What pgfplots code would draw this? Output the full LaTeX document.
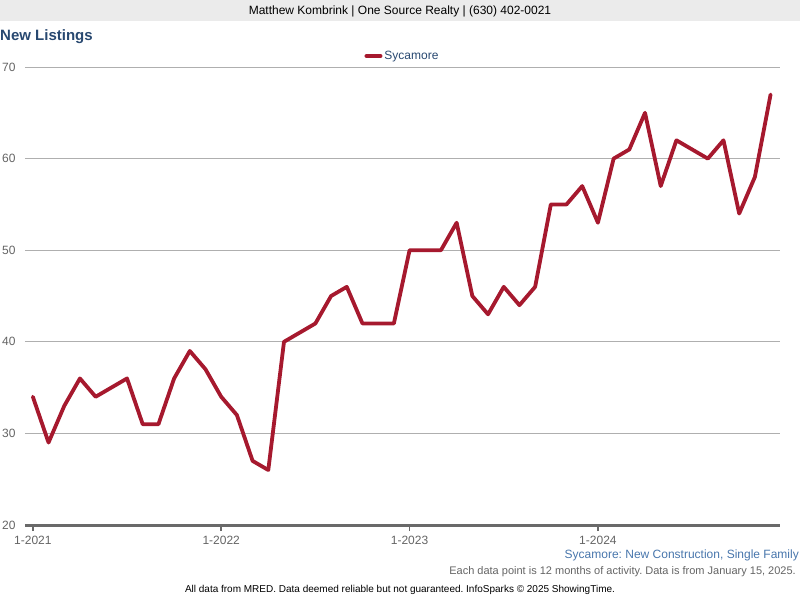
\documentclass[border=0pt]{standalone}
\usepackage{pgfplots}
\pgfplotsset{compat=1.18}
\usepackage{fontspec}
\setmainfont{Liberation Sans}
\frenchspacing
\definecolor{linered}{RGB}{166,25,46}
\definecolor{titleblue}{RGB}{40,72,112}
\definecolor{subblue}{RGB}{72,118,172}
\definecolor{hdrgray}{RGB}{235,235,235}
\definecolor{txtgray}{RGB}{100,100,100}
\definecolor{gridgray}{RGB}{175,175,175}
\definecolor{axgray}{RGB}{105,105,105}
\begin{document}
\begin{tikzpicture}
\path[use as bounding box] (0pt,0pt) rectangle (800pt,-600pt);
\fill[hdrgray] (0pt,0pt) rectangle (800pt,-21pt);
\node[font=\fontsize{12}{14}\selectfont, inner sep=0pt] at (400pt,-11pt) {Matthew Kombrink | One Source Realty | (630) 402-0021};
\node[anchor=base west, font=\bfseries\fontsize{15}{18}\selectfont, text=titleblue, inner sep=0pt] at (0pt,-40.5pt) {New Listings};
\node[anchor=east, inner sep=0pt, text=subblue, font=\fontsize{12}{14}\selectfont] at (799pt,-555pt) {Sycamore: New Construction, Single Family};
\node[anchor=east, inner sep=0pt, text=txtgray, font=\fontsize{11}{13}\selectfont] at (796pt,-572pt) {Each data point is 12 months of activity. Data is from January 15, 2025.};
\node[inner sep=0pt, font=\fontsize{10}{12}\selectfont] at (400pt,-590pt) {All data from MRED. Data deemed reliable but not guaranteed. InfoSparks \textcopyright{} 2025 ShowingTime.};
\begin{axis}[
  at={(25pt,-525pt)}, anchor=south west,
  scale only axis, width=755pt, height=458pt,
  xmin=-0.5, xmax=47.6, ymin=20, ymax=70,
  axis x line*=bottom, axis y line*=left,
  y axis line style={draw=none},
  x axis line style={draw=axgray, line width=3pt, -},
  ytick={20,30,40,50,60,70},
  ymajorgrids, grid style={gridgray, line width=0.8pt},
  ytick style={draw=none},
  xtick={0,12,24,36},
  xticklabels={1-2021,1-2022,1-2023,1-2024},
  xtick style={draw=axgray, line width=1.5pt},
  tick align=outside, major tick length=6pt,
  /pgf/number format/assume math mode=true,
  ticklabel style={font=\fontsize{12}{14}\selectfont, text=txtgray},
  xticklabel style={yshift=-2pt},
  legend style={at={(0.5,1.024)}, anchor=center, draw=none, fill=none,
    font=\fontsize{12}{14}\selectfont, text=titleblue},
  legend image code/.code={\draw[linered, line width=4pt] (0pt,0pt) -- (14pt,0pt);},
]
\addplot[linered, line width=3.8pt, line join=round, line cap=round] coordinates {
(0,34) (1,29) (2,33) (3,36) (4,34) (5,35) (6,36) (7,31) (8,31) (9,36) (10,39) (11,37)
(12,34) (13,32) (14,27) (15,26) (16,40) (17,41) (18,42) (19,45) (20,46) (21,42) (22,42) (23,42)
(24,50) (25,50) (26,50) (27,53) (28,45) (29,43) (30,46) (31,44) (32,46) (33,55) (34,55) (35,57)
(36,53) (37,60) (38,61) (39,65) (40,57) (41,62) (42,61) (43,60) (44,62) (45,54) (46,58) (47,67)
};
\addlegendentry{Sycamore}
\end{axis}
\end{tikzpicture}
\end{document}
